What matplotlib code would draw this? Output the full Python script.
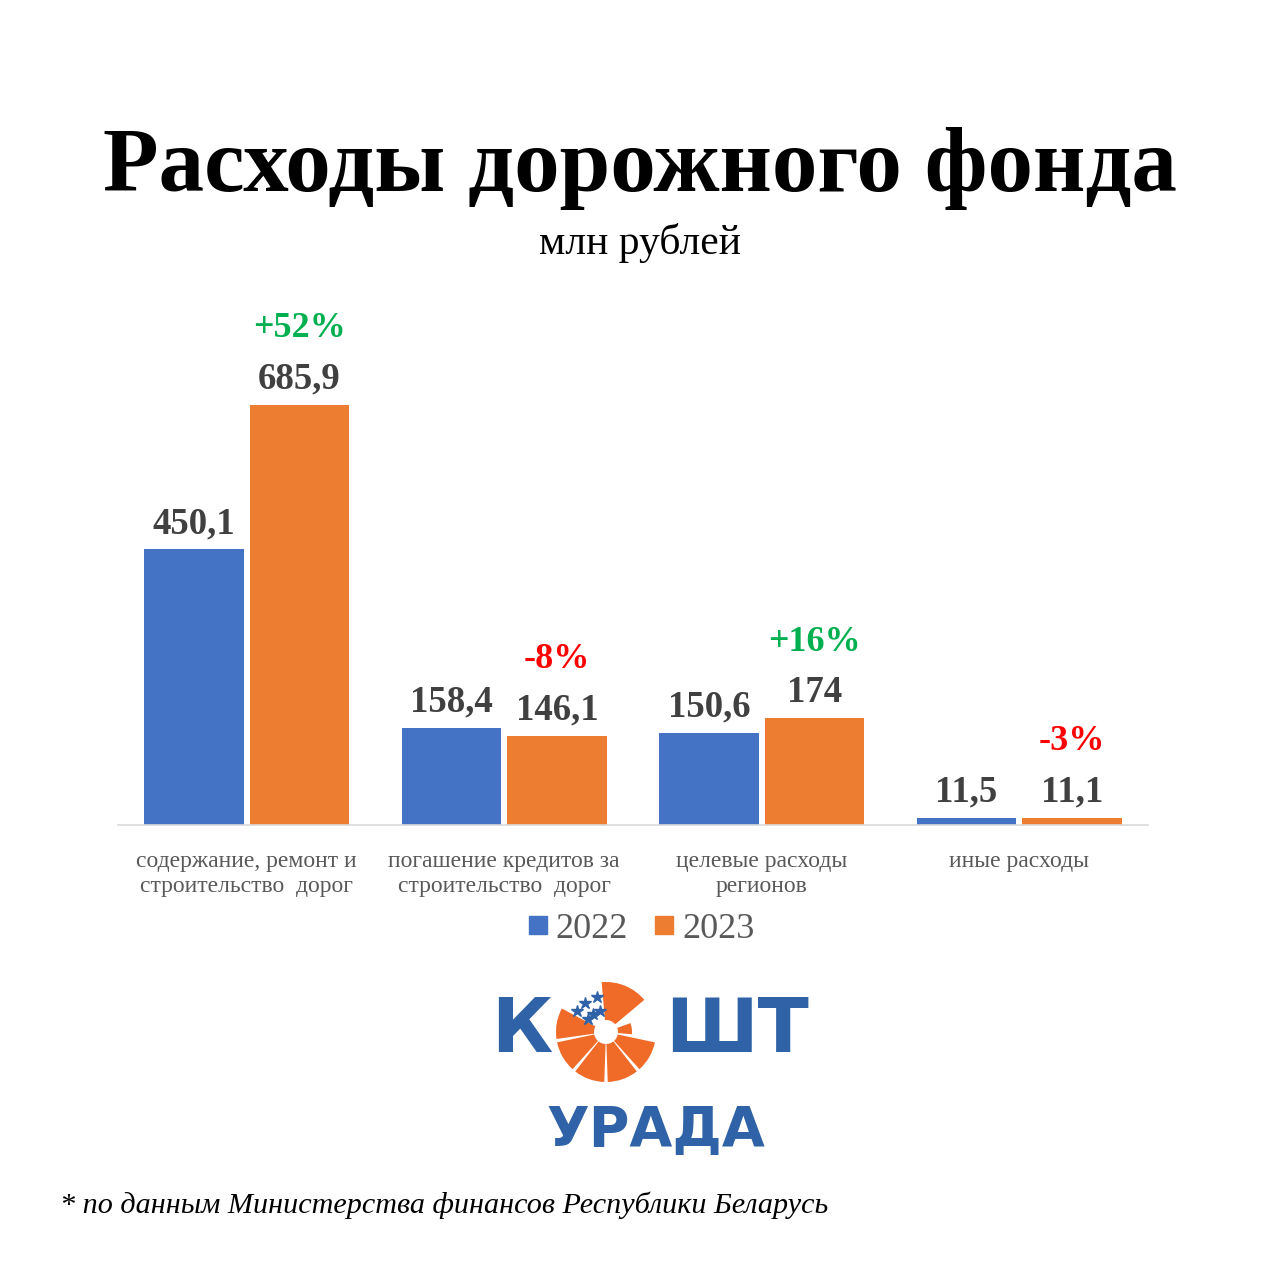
'''
Расходы дорожного фонда: 2022 vs 2023, grouped bars
'''

import matplotlib
matplotlib.use("Agg")
import numpy as np
import matplotlib.pyplot as plt
from matplotlib.patches import Wedge
from matplotlib.lines import Line2D

categories = ["содержание, ремонт и\nстроительство  дорог",
              "погашение кредитов за\nстроительство  дорог",
              "целевые расходы\nрегионов",
              "иные расходы"]
values_2022 = [450.1, 158.4, 150.6, 11.5]
values_2023 = [685.9, 146.1, 174.0, 11.1]
labels_2022 = ["450,1", "158,4", "150,6", "11,5"]
labels_2023 = ["685,9", "146,1", "174", "11,1"]
changes = ["+52%", "-8%", "+16%", "-3%"]
years = ["2022", "2023"]

BLUE = "#4472C4"
ORANGE = "#ED7D31"
GREEN = "#00B050"
RED = "#FF0000"
DARK = "#404040"
GRAY = "#595959"
LOGO_BLUE = "#2F62A6"
LOGO_ORANGE = "#F06A28"

plt.rcParams['font.family'] = ['Liberation Serif', 'DejaVu Serif']

fig = plt.figure(figsize=(12.8, 12.79), dpi=100)
H = 1279.0

# main chart
ax = fig.add_axes([118 / 1280, (H - 825) / H, 1030 / 1280, 525 / H])
x = np.arange(len(categories))
w = 0.388
off = 0.205
b1 = ax.bar(x - off, values_2022, w, color=BLUE)
b2 = ax.bar(x + off, values_2023, w, color=ORANGE)
ax.set_xlim(-0.5, 3.5)
ax.set_ylim(0, 857.4)

for bars, labs in ((b1, labels_2022), (b2, labels_2023)):
    for b, lab in zip(bars, labs):
        ax.annotate(lab, (b.get_x() + b.get_width() / 2, b.get_height()),
                    xytext=(0, 6), textcoords="offset points",
                    ha="center", va="bottom", fontsize=26.5,
                    fontweight="bold", color=DARK)

for b, ch in zip(b2, changes):
    col = GREEN if ch.startswith("+") else RED
    ax.annotate(ch, (b.get_x() + b.get_width() / 2, b.get_height()),
                xytext=(0, 43), textcoords="offset points",
                ha="center", va="bottom", fontsize=26,
                fontweight="bold", color=col)

for s in ("top", "right", "left"):
    ax.spines[s].set_visible(False)
ax.spines["bottom"].set_color("#D9D9D9")
ax.spines["bottom"].set_linewidth(1.2)
ax.set_yticks([])
ax.set_xticks(x)
ax.set_xticklabels(categories, fontsize=17, color=GRAY, linespacing=1.2)
ax.tick_params(axis="x", length=0, pad=19)

# legend
handles = [Line2D([], [], marker="s", ls="", color=BLUE, markersize=13),
           Line2D([], [], marker="s", ls="", color=ORANGE, markersize=13)]
leg = fig.legend(handles, years, loc="center", bbox_to_anchor=(637 / 1280, (H - 929) / H),
                 ncol=2, frameon=False, fontsize=26, handletextpad=0.0,
                 columnspacing=0.5, handlelength=1.0)
for t in leg.get_texts():
    t.set_color(GRAY)

# titles
fig.text(0.5, (H - 168) / H, "Расходы дорожного фонда", ha="center", va="center",
         fontsize=65.5, fontweight="bold", color="black")
fig.text(0.5, (H - 243) / H, "млн рублей", ha="center", va="center",
         fontsize=30, color="black")
fig.text(60 / 1280, (H - 1205) / H,
         "* по данным Министерства финансов Республики Беларусь",
         ha="left", va="center", fontsize=21.7, style="italic", color="black")

# logo (pixel overlay)
lg = fig.add_axes([0, 0, 1, 1])
lg.set_xlim(0, 1280)
lg.set_ylim(H, 0)
lg.axis("off")
lg.patch.set_alpha(0)
lg.text(522, 1031, "К", ha="center", va="center", fontsize=54, fontweight="heavy",
        family="DejaVu Sans", color=LOGO_BLUE)
lg.text(737, 1031, "ШТ", ha="center", va="center", fontsize=54, fontweight="heavy",
        family="DejaVu Sans", color=LOGO_BLUE)
lg.text(656, 1131, "УРАДА", ha="center", va="center", fontsize=40, fontweight="heavy",
        family="DejaVu Sans", color=LOGO_BLUE)
cx, cy = 606, 1032
# angles are measured in the flipped pixel frame (clockwise on screen)
for a0, a1, r in [(-95, -40, 50), (-20, 5, 26), (12, 48, 50), (52, 88, 50),
                  (92, 128, 50), (132, 168, 50), (172, 208, 50)]:
    lg.add_patch(Wedge((cx, cy), r, a0, a1, width=r - 12, color=LOGO_ORANGE, lw=0))
for ang in np.radians([215, 235, 255]):
    for rr in (22, 36):
        lg.plot(cx + rr * np.cos(ang), cy + rr * np.sin(ang), marker="*",
                color=LOGO_BLUE, markersize=9)

fig.savefig("out.png", dpi=100, facecolor="white")
